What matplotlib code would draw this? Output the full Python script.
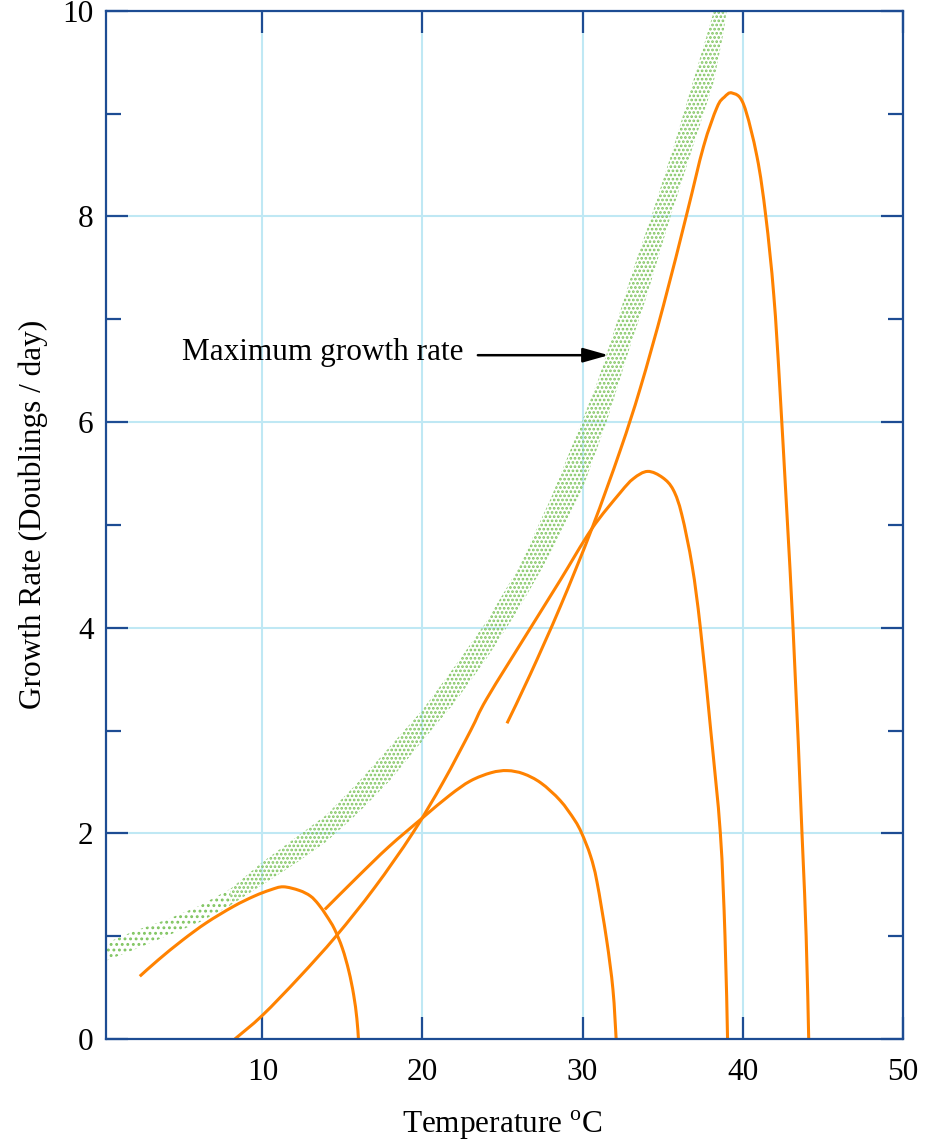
import matplotlib
matplotlib.use("Agg")
import numpy as np
import matplotlib.pyplot as plt
from matplotlib.patches import Polygon, PathPatch
from matplotlib.path import Path

plt.rcParams["font.family"] = ["Liberation Serif", "DejaVu Serif"]
plt.rcParams["mathtext.fontset"] = "custom"
plt.rcParams["mathtext.rm"] = "Liberation Serif"
plt.rcParams["hatch.linewidth"] = 1.3

# ---- data -------------------------------------------------------------
# envelope of maximum growth rate (upper and lower edge of the stippled band)
band_upper_x = [0.2, 2.0, 4.0, 6.0, 8.0, 10.0, 12.0, 14.0, 16.0, 18.0, 20.0, 22.0,
                24.0, 26.0, 28.0, 29.95, 31.0, 32.0, 33.2, 34.3, 35.7, 36.9, 37.8, 38.3]
band_upper_y = [0.93, 1.05, 1.16, 1.29, 1.46, 1.72, 1.95, 2.18, 2.5, 2.85, 3.2, 3.62,
                4.06, 4.58, 5.25, 6.0, 6.42, 6.9, 7.5, 8.0, 8.68, 9.31, 9.78, 10.05]
band_lower_x = [0.2, 2.0, 4.0, 6.0, 8.0, 10.0, 12.0, 14.0, 16.0, 18.0, 20.0, 22.0,
                24.0, 26.0, 28.0, 30.0, 31.5, 32.3, 33.0, 34.0, 35.5, 36.9, 38.2, 38.8, 39.05]
band_lower_y = [0.76, 0.87, 1.0, 1.13, 1.3, 1.5, 1.7, 1.92, 2.2, 2.52, 2.9, 3.27,
                3.7, 4.18, 4.72, 5.35, 6.0, 6.4, 6.75, 7.22, 8.0, 8.68, 9.31, 9.78, 10.05]

# growth curves of individual strains
curve1_x = [2.34, 3.5, 5.0, 6.5, 8.2, 9.5, 10.5, 11.3, 12.3, 13.0, 13.5, 14.0, 14.5,
            15.0, 15.4, 15.7, 15.9, 16.0]
curve1_y = [0.61, 0.77, 0.96, 1.13, 1.29, 1.39, 1.45, 1.48, 1.445, 1.39, 1.31, 1.2, 1.07,
            0.88, 0.66, 0.43, 0.2, 0.0]

curve2_x = [13.9, 15.9, 17.9, 20.0, 21.7, 23.0, 24.3, 25.3, 26.3, 27.4, 28.6, 29.5,
            29.95, 30.5, 30.9, 31.5, 31.9, 32.1]
curve2_y = [1.26, 1.57, 1.87, 2.15, 2.37, 2.51, 2.59, 2.61, 2.58, 2.49, 2.32, 2.13,
            2.0, 1.78, 1.53, 0.97, 0.48, 0.0]

curve3_x = [8.28, 10.0, 12.3, 14.6, 17.0, 19.38, 21.3, 23.01, 24.02, 26.76, 28.6, 30.57,
            32.34, 33.18, 34.07, 35.0, 35.67, 36.2, 36.85, 37.36, 38.01, 38.61, 38.9, 39.06]
curve3_y = [0.0, 0.23, 0.6, 1.0, 1.47, 2.0, 2.5, 3.0, 3.31, 4.0, 4.46, 4.96,
            5.31, 5.45, 5.52, 5.46, 5.34, 5.1, 4.6, 4.0, 3.0, 2.0, 1.0, 0.0]

curve4_x = [25.28, 26.73, 28.61, 30.59, 32.36, 33.61, 35.06, 36.53, 37.56, 38.4, 38.86,
            39.34, 40.06, 40.9, 41.45, 41.95, 42.36, 43.15, 43.71, 43.97, 44.13]
curve4_y = [3.07, 3.545, 4.205, 4.966, 5.727, 6.331, 7.136, 8.034, 8.68, 9.06, 9.16,
            9.2, 9.09, 8.58, 8.0, 7.23, 6.24, 4.0, 2.0, 1.0, 0.0]

x_ticks = [10, 20, 30, 40, 50]
y_ticks = [0, 2, 4, 6, 8, 10]
y_minor_ticks = [1, 3, 5, 7, 9]

# ---- styling ----------------------------------------------------------
AXIS_BLUE = "#1d4c93"
GRID_BLUE = "#bfe8f4"
ORANGE = "#ff8200"
STIPPLE = "#7fc45f"
FS = 22.5

fig = plt.figure(figsize=(9.26, 11.42), dpi=100)
ax = fig.add_axes([0.1145, 0.0902, 0.8603, 0.9004])
ax.set_xlim(0.23, 50)
ax.set_ylim(0, 10)

ax.set_xticks(x_ticks)
ax.set_xticklabels([str(t) for t in x_ticks])
ax.set_yticks(y_ticks)
ax.set_yticklabels([str(t) for t in y_ticks])
ax.set_yticks(y_minor_ticks, minor=True)

ax.set_axisbelow(True)
ax.grid(True, which="major", color=GRID_BLUE, linewidth=1.5)
for s in ax.spines.values():
    s.set_color(AXIS_BLUE)
    s.set_linewidth(1.6)

ax.tick_params(axis="both", which="major", direction="in", length=16, width=1.6,
               color=AXIS_BLUE, top=True, right=True, labelsize=FS)
ax.tick_params(axis="both", which="minor", direction="in", length=11, width=1.6,
               color=AXIS_BLUE, top=True, right=True)
ax.tick_params(axis="x", which="major", pad=13.5)
ax.tick_params(axis="y", which="major", pad=9)


def band_polygon(xmin, xmax):
    up = [(x, y) for x, y in zip(band_upper_x, band_upper_y) if xmin <= x <= xmax]
    lo = [(x, y) for x, y in zip(band_lower_x, band_lower_y) if xmin <= x <= xmax]
    return up + lo[::-1]


def smooth_curve_path(xs, ys):
    """Cubic Bezier path passing through every (x, y) point (Catmull-Rom tangents,
    computed in screen-proportional units so the axes aspect does not distort them)."""
    sx, sy = 16.0, 102.8
    p = np.column_stack([np.asarray(xs) * sx, np.asarray(ys) * sy])
    n = len(p)
    verts = [p[0]]
    codes = [Path.MOVETO]
    for i in range(n - 1):
        p0 = p[i - 1] if i > 0 else p[i]
        p1, p2 = p[i], p[i + 1]
        p3 = p[i + 2] if i + 2 < n else p[i + 1]
        c1 = p1 + (p2 - p0) / 6.0
        c2 = p2 - (p3 - p1) / 6.0
        verts += [c1, c2, p2]
        codes += [Path.CURVE4] * 3
    verts = np.array(verts) / np.array([sx, sy])
    return Path(verts, codes)


# sparse stipple on the cold end, dense stipple for the rest of the envelope
ax.add_patch(Polygon(band_polygon(0, 8.0), closed=True, facecolor="none",
                     edgecolor=STIPPLE, linewidth=0, hatch="...", zorder=1.5))
ax.add_patch(Polygon(band_polygon(8.0, 60), closed=True, facecolor="none",
                     edgecolor=STIPPLE, linewidth=0, hatch="....", zorder=1.5))

for cx, cy in [(curve1_x, curve1_y), (curve2_x, curve2_y),
               (curve3_x, curve3_y), (curve4_x, curve4_y)]:
    ax.add_patch(PathPatch(smooth_curve_path(cx, cy), facecolor="none",
                           edgecolor=ORANGE, linewidth=2.2, capstyle="butt",
                           joinstyle="round", zorder=2))

ax.text(4.98, 6.6, "Maximum growth rate", fontsize=FS, ha="left", va="baseline",
        zorder=3)
ax.annotate("", xy=(31.63, 6.65), xytext=(23.46, 6.65),
            arrowprops=dict(arrowstyle="-|>,head_length=0.78,head_width=0.22",
                            color="black", lw=1.8, mutation_scale=20,
                            shrinkA=0, shrinkB=0),
            zorder=3)

fig.text(502.5 / 926, 1 - 1133 / 1142, "Temperature $^{\\mathrm{o}}$C",
         fontsize=FS, ha="center", va="baseline")
fig.text(33 / 926, 1 - 514 / 1142, "Growth Rate (Doublings / day)",
         fontsize=FS, rotation=90, ha="center", va="center")

fig.savefig("out.png", dpi=100)
